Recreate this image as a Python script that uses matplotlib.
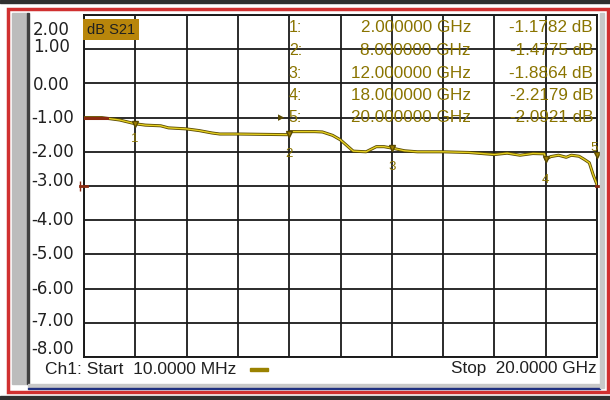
import matplotlib
matplotlib.use("Agg")
import matplotlib.pyplot as plt
import matplotlib.transforms as mtransforms
from matplotlib.patches import Rectangle
import numpy as np

plt.rcParams['font.family'] = ['Liberation Sans', 'DejaVu Sans']

# trace S21 (GHz, dB)
freq = [0.01, 0.7, 1.0, 1.4, 2.0, 2.4, 3.0, 3.3, 4.0, 4.5, 5.0, 5.3, 6.0, 7.0, 8.0,
        8.05, 9.0, 9.3, 9.7, 10.0, 10.5, 11.0, 11.4, 11.7, 12.0, 12.5, 13.0, 14.0,
        15.0, 15.5, 16.0, 16.5, 17.0, 17.5, 17.95, 18.0, 18.2, 18.5, 18.8, 19.0,
        19.3, 19.5, 19.7, 19.85, 20.0]
s21 = [-1.00, -1.00, -1.03, -1.07, -1.18, -1.22, -1.24, -1.30, -1.33, -1.38, -1.45,
       -1.48, -1.48, -1.49, -1.50, -1.41, -1.41, -1.42, -1.52, -1.65, -1.98, -2.00,
       -1.85, -1.85, -1.89, -1.97, -2.00, -2.00, -2.02, -2.05, -2.08, -2.04, -2.10,
       -2.05, -2.06, -2.22, -2.14, -2.10, -2.16, -2.10, -2.13, -2.22, -2.32, -2.67,
       -2.96]

# marker table
mk_num = [1, 2, 3, 4, 5]
mk_freq = [2.0, 8.0, 12.0, 18.0, 20.0]
mk_db = [-1.1782, -1.4775, -1.8864, -2.2179, -2.0921]
mk_freq_txt = ["2.000000 GHz", "8.000000 GHz", "12.000000 GHz", "18.000000 GHz", "20.000000 GHz"]
mk_db_txt = ["-1.1782 dB", "-1.4775 dB", "-1.8864 dB", "-2.2179 dB", "-2.0921 dB"]

ytick_vals = [2, 1, 0, -1, -2, -3, -4, -5, -6, -7, -8]
ytick_txt = ["2.00", "1.00", "0.00", "-1.00", "-2.00", "-3.00", "-4.00", "-5.00", "-6.00", "-7.00", "-8.00"]
# label centres on screen are a bit off the grid at the top/bottom
ytick_pos = [1.57, 1.05, -0.04, -1.0, -2.0, -2.84, -4.0, -5.0, -6.0, -6.95, -7.78]

W, H = 610, 400
txt_col = '#8a7400'

def fx(px):
    return px / W

def fy(py):
    return 1 - py / H

fig = plt.figure(figsize=(6.1, 4.0), dpi=100)
fig.patch.set_facecolor('white')

# instrument frame
fig.add_artist(Rectangle((0, fy(3)), 1, 3 / H, transform=fig.transFigure, color='#303030', zorder=0))
fig.add_artist(Rectangle((fx(8), fy(392)), fx(600), (392 - 9) / H, transform=fig.transFigure,
                         fill=False, ec='#d03030', lw=2.5, zorder=1))
fig.add_artist(Rectangle((fx(12), fy(384)), fx(15), (384 - 13) / H, transform=fig.transFigure,
                         color='#bcbcbc', zorder=1))
fig.add_artist(Rectangle((fx(27), fy(384)), fx(1.5), (384 - 13) / H, transform=fig.transFigure,
                         color='#404040', zorder=1))
fig.add_artist(Rectangle((fx(28), fy(388)), fx(572), 4 / H, transform=fig.transFigure,
                         color='#c8c8c8', zorder=1))
fig.add_artist(Rectangle((fx(28), fy(389)), fx(572), 1.5 / H, transform=fig.transFigure,
                         color='#203080', zorder=1))
fig.add_artist(Rectangle((fx(600), fy(388)), fx(4), (388 - 13) / H, transform=fig.transFigure,
                         color='#c8c8c8', zorder=1))
fig.add_artist(Rectangle((0, fy(400)), 1, 4 / H, transform=fig.transFigure, color='#303030', zorder=0))

ax = fig.add_axes([fx(84), fy(357), fx(597 - 84), (357 - 15) / H])
ax.set_xlim(0.01, 20)
ax.set_ylim(-8, 2)
ax.set_xticks(np.linspace(0.01, 20, 11))
ax.set_yticks(ytick_vals)
ax.tick_params(length=0, labelleft=False, labelbottom=False)
ax.grid(True, color='#1a1a1a', lw=1.3)
for s in ax.spines.values():
    s.set_color('#1a1a1a')
    s.set_linewidth(1.4)

# y scale labels
ylab_tr = mtransforms.blended_transform_factory(fig.transFigure, ax.transData)
for v, t in zip(ytick_pos, ytick_txt):
    x0 = 31 if t.startswith('-') else 33
    fig.text(fx(x0), v, t, ha='left', va='center', fontsize=12, color='#202020',
             family=['DejaVu Sans'], transform=ylab_tr)

# trace
ax.plot(freq, s21, color='#5a4a00', lw=2.2, zorder=3)
ax.plot(freq, s21, color='#e6d020', lw=1.0, zorder=4)
ax.plot([0.01, 0.9], [-1.0, -1.0], color='#8a2a10', lw=2.2, zorder=5)

# markers
lab_off = [-0.45, -0.6, -0.55, -0.6, 0.2]
for n, f, d, o in zip(mk_num, mk_freq, mk_db, lab_off):
    ax.plot(f, d, marker='v', ms=5, color='#a08000', mec='#5a4a00', zorder=6, clip_on=False)
    ax.text(f - 0.1 if n == 5 else f, d + o, str(n), ha='center', va='center', fontsize=9.5,
            color=txt_col, zorder=6, clip_on=False)

# reference level arrows
ax.plot([-0.15, 0.12], [-3, -3], color='#8a2a10', lw=2, clip_on=False, zorder=6)
ax.plot([-0.15], [-3], marker='|', ms=7, color='#8a2a10', clip_on=False, zorder=6)
ax.plot([19.95, 20.15], [-3, -3], color='#8a2a10', lw=2, clip_on=False, zorder=6)

# trace label box
ax.text(0.12, 1.57, "dB S21", fontsize=10.5, color='#202020', ha='left', va='center', zorder=7,
        bbox=dict(boxstyle='square,pad=0.25', fc='#b8860b', ec='none'))

# marker readout
row_y = [28, 50.5, 73, 95.5, 118]
for n, ft, dt, ry in zip(mk_num, mk_freq_txt, mk_db_txt, row_y):
    fig.text(fx(302), fy(ry), f"{n}:", ha='right', va='center', fontsize=11.5, color=txt_col, zorder=8)
    fig.text(fx(471), fy(ry), ft, ha='right', va='center', fontsize=12.3, color=txt_col, zorder=8)
    fig.text(fx(593), fy(ry), dt, ha='right', va='center', fontsize=12.3, color=txt_col, zorder=8)
fig.text(fx(284), fy(118), "\u25b8", ha='right', va='center', fontsize=9, color='#5a4a00', zorder=8)

# channel line
fig.text(fx(45), fy(369), "Ch1: Start  10.0000 MHz", ha='left', va='center', fontsize=12.5, color='#202020')
fig.add_artist(Rectangle((fx(250), fy(370.5)), fx(18), 3 / H, transform=fig.transFigure, color='#9a8200'))
fig.text(fx(597), fy(369), "Stop  20.0000 GHz", ha='right', va='center', fontsize=12.3, color='#202020')

fig.savefig("out.png", dpi=100)
